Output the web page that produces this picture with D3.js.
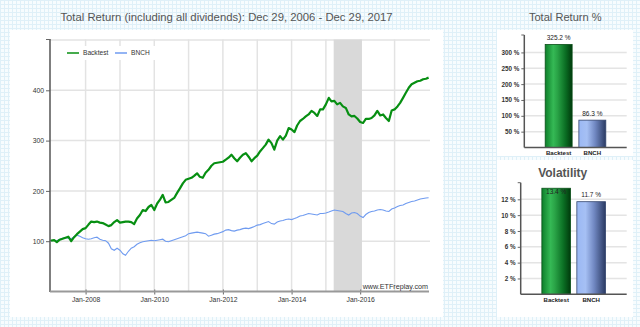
<!DOCTYPE html>
<html><head><meta charset="utf-8">
<script src="https://cdn.jsdelivr.net/npm/d3@7"></script>
<style>html,body{margin:0;padding:0;background:#fff;}svg{display:block;font-family:"Liberation Sans",Arial,sans-serif;}</style>
</head><body><svg id="c" width="640" height="327"></svg>
<script>
// ---------- DATA ----------
const dates = ["2006-12-29",
"2007-01-01","2007-02-01","2007-03-01","2007-04-01","2007-05-01","2007-06-01","2007-07-01","2007-08-01","2007-09-01","2007-10-01","2007-11-01","2007-12-01",
"2008-01-01","2008-02-01","2008-03-01","2008-04-01","2008-05-01","2008-06-01","2008-07-01","2008-08-01","2008-09-01","2008-10-01","2008-11-01","2008-12-01",
"2009-01-01","2009-02-01","2009-03-01","2009-04-01","2009-05-01","2009-06-01","2009-07-01","2009-08-01","2009-09-01","2009-10-01","2009-11-01","2009-12-01",
"2010-01-01","2010-02-01","2010-03-01","2010-04-01","2010-05-01","2010-06-01","2010-07-01","2010-08-01","2010-09-01","2010-10-01","2010-11-01","2010-12-01",
"2011-01-01","2011-02-01","2011-03-01","2011-04-01","2011-05-01","2011-06-01","2011-07-01","2011-08-01","2011-09-01","2011-10-01","2011-11-01","2011-12-01",
"2012-01-01","2012-02-01","2012-03-01","2012-04-01","2012-05-01","2012-06-01","2012-07-01","2012-08-01","2012-09-01","2012-10-01","2012-11-01","2012-12-01",
"2013-01-01","2013-02-01","2013-03-01","2013-04-01","2013-05-01","2013-06-01","2013-07-01","2013-08-01","2013-09-01","2013-10-01","2013-11-01","2013-12-01",
"2014-01-01","2014-02-01","2014-03-01","2014-04-01","2014-05-01","2014-06-01","2014-07-01","2014-08-01","2014-09-01","2014-10-01","2014-11-01","2014-12-01",
"2015-01-01","2015-02-01","2015-03-01","2015-04-01","2015-05-01","2015-06-01","2015-07-01","2015-08-01","2015-09-01","2015-10-01","2015-11-01","2015-12-01",
"2016-01-01","2016-02-01","2016-03-01","2016-04-01","2016-05-01","2016-06-01","2016-07-01","2016-08-01","2016-09-01","2016-10-01","2016-11-01","2016-12-01",
"2017-01-01","2017-02-01","2017-03-01","2017-04-01","2017-05-01","2017-06-01","2017-07-01","2017-08-01","2017-09-01","2017-10-01","2017-11-01","2017-12-01",
"2017-12-29"];
const backtest = [100,
101,102,98,103,105,107,109,100,108,114,119,124,
126,133,139,138,139,137,136,133,130,132,138,142,
137,138,139,139,138,134,145,152,162,160,168,172,
162,175,182,192,177,178,182,186,196,205,215,222,
224,226,230,235,228,226,236,242,250,255,256,257,
258,262,266,272,265,259,266,272,275,268,259,265,
270,279,285,292,302,295,282,300,309,302,310,325,
322,317,330,339,343,348,352,359,355,349,362,362,
372,385,378,379,372,375,368,365,352,348,349,344,
337,335,343,343,345,350,359,350,352,345,339,360,
362,368,375,385,395,405,412,415,418,419,422,423,
425.2];
const bnch = [100,
101,102,101,104,106,107,106,105,109,112,110,107,
105,104,105,107,108,104,102,101,96,85,82,86,
82,75,72,80,86,89,94,97,99,100,101,102,
101,102,103,104,100,99,101,103,105,107,109,111,
115,116,117,118,117,116,115,110,112,114,115,117,
119,122,123,121,120,122,123,125,126,125,127,129,
132,133,135,137,139,135,134,138,140,141,143,144,
143,145,147,150,151,153,155,154,153,152,155,155,
156,158,160,162,161,160,159,155,152,156,157,155,
150,147,153,157,159,160,162,163,162,160,159,164,
166,169,171,172,175,177,179,180,182,184,185,186,
186.3];
const seriesNames = ["Backtest","BNCH"];
const yTicks = [100,200,300,400];
const yGrid = [100,200,300,400,500];
const shadeRange = ["2015-03-25","2016-01-20"];
const barCategories = ["Backtest","BNCH"];
const totalReturn = [325.2, 86.3];
const volatility = [13.4, 11.7];
const trTicks = [50,100,150,200,250,300];
const volTicks = [2,4,6,8,10,12];
const mainTitle = "Total Return (including all dividends): Dec 29, 2006 - Dec 29, 2017";

// ---------- SETUP ----------
const parse = d3.timeParse("%Y-%m-%d");
const svg = d3.select("#c");
const defs = svg.append("defs");
const pat = defs.append("pattern").attr("id","bgGrid").attr("width",4).attr("height",4).attr("patternUnits","userSpaceOnUse");
pat.append("rect").attr("width",4).attr("height",4).attr("fill","#f7fcfe");
pat.append("path").attr("d","M0 0.5H4M0.5 0V4").attr("stroke","#dff0f8").attr("stroke-width",1);

function grad(id, stops){
  const gr = defs.append("linearGradient").attr("id",id).attr("x1",0).attr("x2",1).attr("y1",0).attr("y2",0);
  stops.forEach(s=>gr.append("stop").attr("offset",s[0]).attr("stop-color",s[1]));
}
grad("gGreen",[[0,"#0d7f2a"],[0.3,"#35b955"],[0.45,"#2aa447"],[0.75,"#0b6f24"],[1,"#003a0c"]]);
grad("gBlue",[[0,"#9bb8f4"],[0.3,"#a6c0f4"],[0.6,"#7188c2"],[1,"#2a3a63"]]);

svg.append("rect").attr("width",640).attr("height",327).attr("fill","url(#bgGrid)");
svg.append("rect").attr("x",10).attr("y",30).attr("width",433).attr("height",287).attr("fill","#fff");
svg.append("rect").attr("x",497).attr("y",30).attr("width",136).attr("height",126).attr("fill","#fff");
svg.append("rect").attr("x",497).attr("y",160).attr("width",136).attr("height",157).attr("fill","#fff");

// ---------- MAIN CHART ----------
svg.append("text").attr("x",226.5).attr("y",21).attr("text-anchor","middle")
  .attr("font-size",11.3).attr("fill","#555").text(mainTitle);

const x = d3.scaleTime().domain([parse(dates[0]), parse(dates[dates.length-1])]).range([51,428.6]);
const y = d3.scaleLinear().domain([0,500]).range([291.5,40]);
const pL = 50, pR = 430, pT = 39.5, pB = 291.5;

const g = svg.append("g");
g.selectAll(".hg").data(yGrid).join("line")
  .attr("x1",pL).attr("x2",pR).attr("y1",d=>y(d)).attr("y2",d=>y(d))
  .attr("stroke","#e3e3e3").attr("stroke-width",1.5);
const years = d3.timeYear.range(new Date(2008,0,1), new Date(2018,0,1));
g.selectAll(".vg").data(years).join("line")
  .attr("x1",d=>x(d)).attr("x2",d=>x(d)).attr("y1",pT).attr("y2",pB)
  .attr("stroke","#e3e3e3").attr("stroke-width",1.5);
g.append("rect").attr("x",x(parse(shadeRange[0]))).attr("y",pT)
  .attr("width",x(parse(shadeRange[1]))-x(parse(shadeRange[0]))).attr("height",pB-pT)
  .attr("fill","#d9d9d9");

// legend background
g.append("rect").attr("x",58).attr("y",46).attr("width",100).attr("height",14).attr("fill","#fff");

const line = d3.line().x((d,i)=>x(parse(dates[i]))).y(d=>y(d));
g.append("path").datum(bnch).attr("d",line).attr("fill","none").attr("stroke","#6f9bf0").attr("stroke-width",1.1);
g.append("path").datum(backtest).attr("d",line).attr("fill","none").attr("stroke","#078f12").attr("stroke-width",2.2).attr("stroke-linejoin","round");

// legend
const legColors = ["#078f12","#6f9bf0"];
const legX = [67,115];
seriesNames.forEach((n,i)=>{
  g.append("line").attr("x1",legX[i]).attr("x2",legX[i]+12).attr("y1",53).attr("y2",53)
    .attr("stroke",legColors[i]).attr("stroke-width",1.5);
  g.append("text").attr("x",legX[i]+16).attr("y",55.4).attr("font-size",6.6).attr("fill","#333").text(n);
});

// y axis
const ya = g.append("g").attr("transform",`translate(${pL},0)`)
  .call(d3.axisLeft(y).tickValues(yTicks).tickSize(4).tickPadding(2).tickSizeOuter(0));
ya.select(".domain").remove();
ya.selectAll("line").attr("stroke","#666");
ya.selectAll("text").attr("font-size",6.8).attr("fill","#333").attr("font-family",null);
g.append("line").attr("x1",pL).attr("x2",pL).attr("y1",pT-0.5).attr("y2",pB+0.5).attr("stroke","#555").attr("stroke-width",1.5);
g.append("line").attr("x1",pL-4).attr("x2",pL).attr("y1",pT).attr("y2",pT).attr("stroke","#666");

// x axis
const xa = g.append("g").attr("transform",`translate(0,${pB})`)
  .call(d3.axisBottom(x).ticks(d3.timeYear.every(2)).tickFormat(d3.timeFormat("%b-%Y")).tickSize(3).tickPadding(3).tickSizeOuter(0));
xa.select(".domain").remove();
xa.selectAll("line").attr("stroke","#666").attr("y1",-2);
xa.selectAll("text").attr("font-size",6.8).attr("fill","#333").attr("font-family",null);
g.append("line").attr("x1",pL).attr("x2",429).attr("y1",pB).attr("y2",pB).attr("stroke","#999").attr("stroke-width",2);

g.append("text").attr("x",428).attr("y",288.5).attr("text-anchor","end").attr("font-size",7.2).attr("fill","#333").text("www.ETFreplay.com");

// ---------- BAR CHARTS ----------
function barChart(opts){
  const {title, bold, titleX, titleY, titleSize, values, ticks, yDomain, yRange, xRange, pi, po, fmt} = opts;
  const gg = svg.append("g");
  gg.append("text").attr("x",titleX).attr("y",titleY).attr("text-anchor","middle")
    .attr("font-size",titleSize).attr("font-weight",bold?"bold":"normal").attr("fill","#555").text(title);
  const yy = d3.scaleLinear().domain(yDomain).range(yRange);
  const xx = d3.scaleBand().domain(barCategories).range(xRange).paddingInner(pi).paddingOuter(po);
  gg.selectAll(".gl").data(ticks).join("line")
    .attr("x1",xRange[0]).attr("x2",xRange[1]).attr("y1",d=>yy(d)).attr("y2",d=>yy(d))
    .attr("stroke","#e4e4e4").attr("stroke-width",1.5);
  const ax = gg.append("g").attr("transform",`translate(${xRange[0]},0)`)
    .call(d3.axisLeft(yy).tickValues(ticks).tickSize(3).tickPadding(2).tickFormat(d=>d+" %").tickSizeOuter(0));
  ax.select(".domain").remove();
  ax.selectAll("line").attr("stroke","#666");
  ax.selectAll("text").attr("font-size",6.3).attr("font-weight","bold").attr("fill","#333").attr("font-family",null);
  gg.append("line").attr("x1",xRange[0]).attr("x2",xRange[0]).attr("y1",yRange[1]).attr("y2",yRange[0])
    .attr("stroke","#555").attr("stroke-width",1.5);
  gg.append("line").attr("x1",xRange[0]-3).attr("x2",xRange[0]).attr("y1",yRange[1]).attr("y2",yRange[1]).attr("stroke","#666");
  const fills = ["url(#gGreen)","url(#gBlue)"];
  const strokes = ["#0a4f18","#34466f"];
  gg.selectAll(".bar").data(values).join("rect")
    .attr("x",(d,i)=>xx(barCategories[i])).attr("width",xx.bandwidth())
    .attr("y",d=>yy(d)).attr("height",d=>yy(0)-yy(d))
    .attr("fill",(d,i)=>fills[i]).attr("stroke",(d,i)=>strokes[i]).attr("stroke-width",0.8);
  gg.append("line").attr("x1",xRange[0]).attr("x2",xRange[1]).attr("y1",yRange[0]).attr("y2",yRange[0])
    .attr("stroke","#555").attr("stroke-width",1.5);
  gg.selectAll(".vl").data(values).join("text")
    .attr("x",(d,i)=>xx(barCategories[i])+xx.bandwidth()/2)
    .attr("y",d=>{const t=yy(d); return (t-7 < yRange[1]) ? t+6.2 : t-4.6;})
    .attr("text-anchor","middle").attr("font-size",6.5).attr("fill","#222").text(d=>fmt(d)+" %");
  gg.selectAll(".cl").data(barCategories).join("text")
    .attr("x",d=>xx(d)+xx.bandwidth()/2).attr("y",yRange[0]+7.5)
    .attr("text-anchor","middle").attr("font-size",6.1).attr("font-weight","bold").attr("fill","#222").text(d=>d);
}
barChart({title:"Total Return %", bold:false, titleX:565.3, titleY:21.3, titleSize:11.1,
  values:totalReturn, ticks:trTicks, yDomain:[0,355], yRange:[147.5,35], xRange:[524.3,626.7], pi:0.2, po:0.62,
  fmt:d3.format(".1f")});
barChart({title:"Volatility", bold:true, titleX:562.7, titleY:177.3, titleSize:12,
  values:volatility, ticks:volTicks, yDomain:[0,14.1], yRange:[294.3,182.7], xRange:[520.7,626.7], pi:0.18, po:0.605,
  fmt:d3.format(".1f")});
</script></body></html>
